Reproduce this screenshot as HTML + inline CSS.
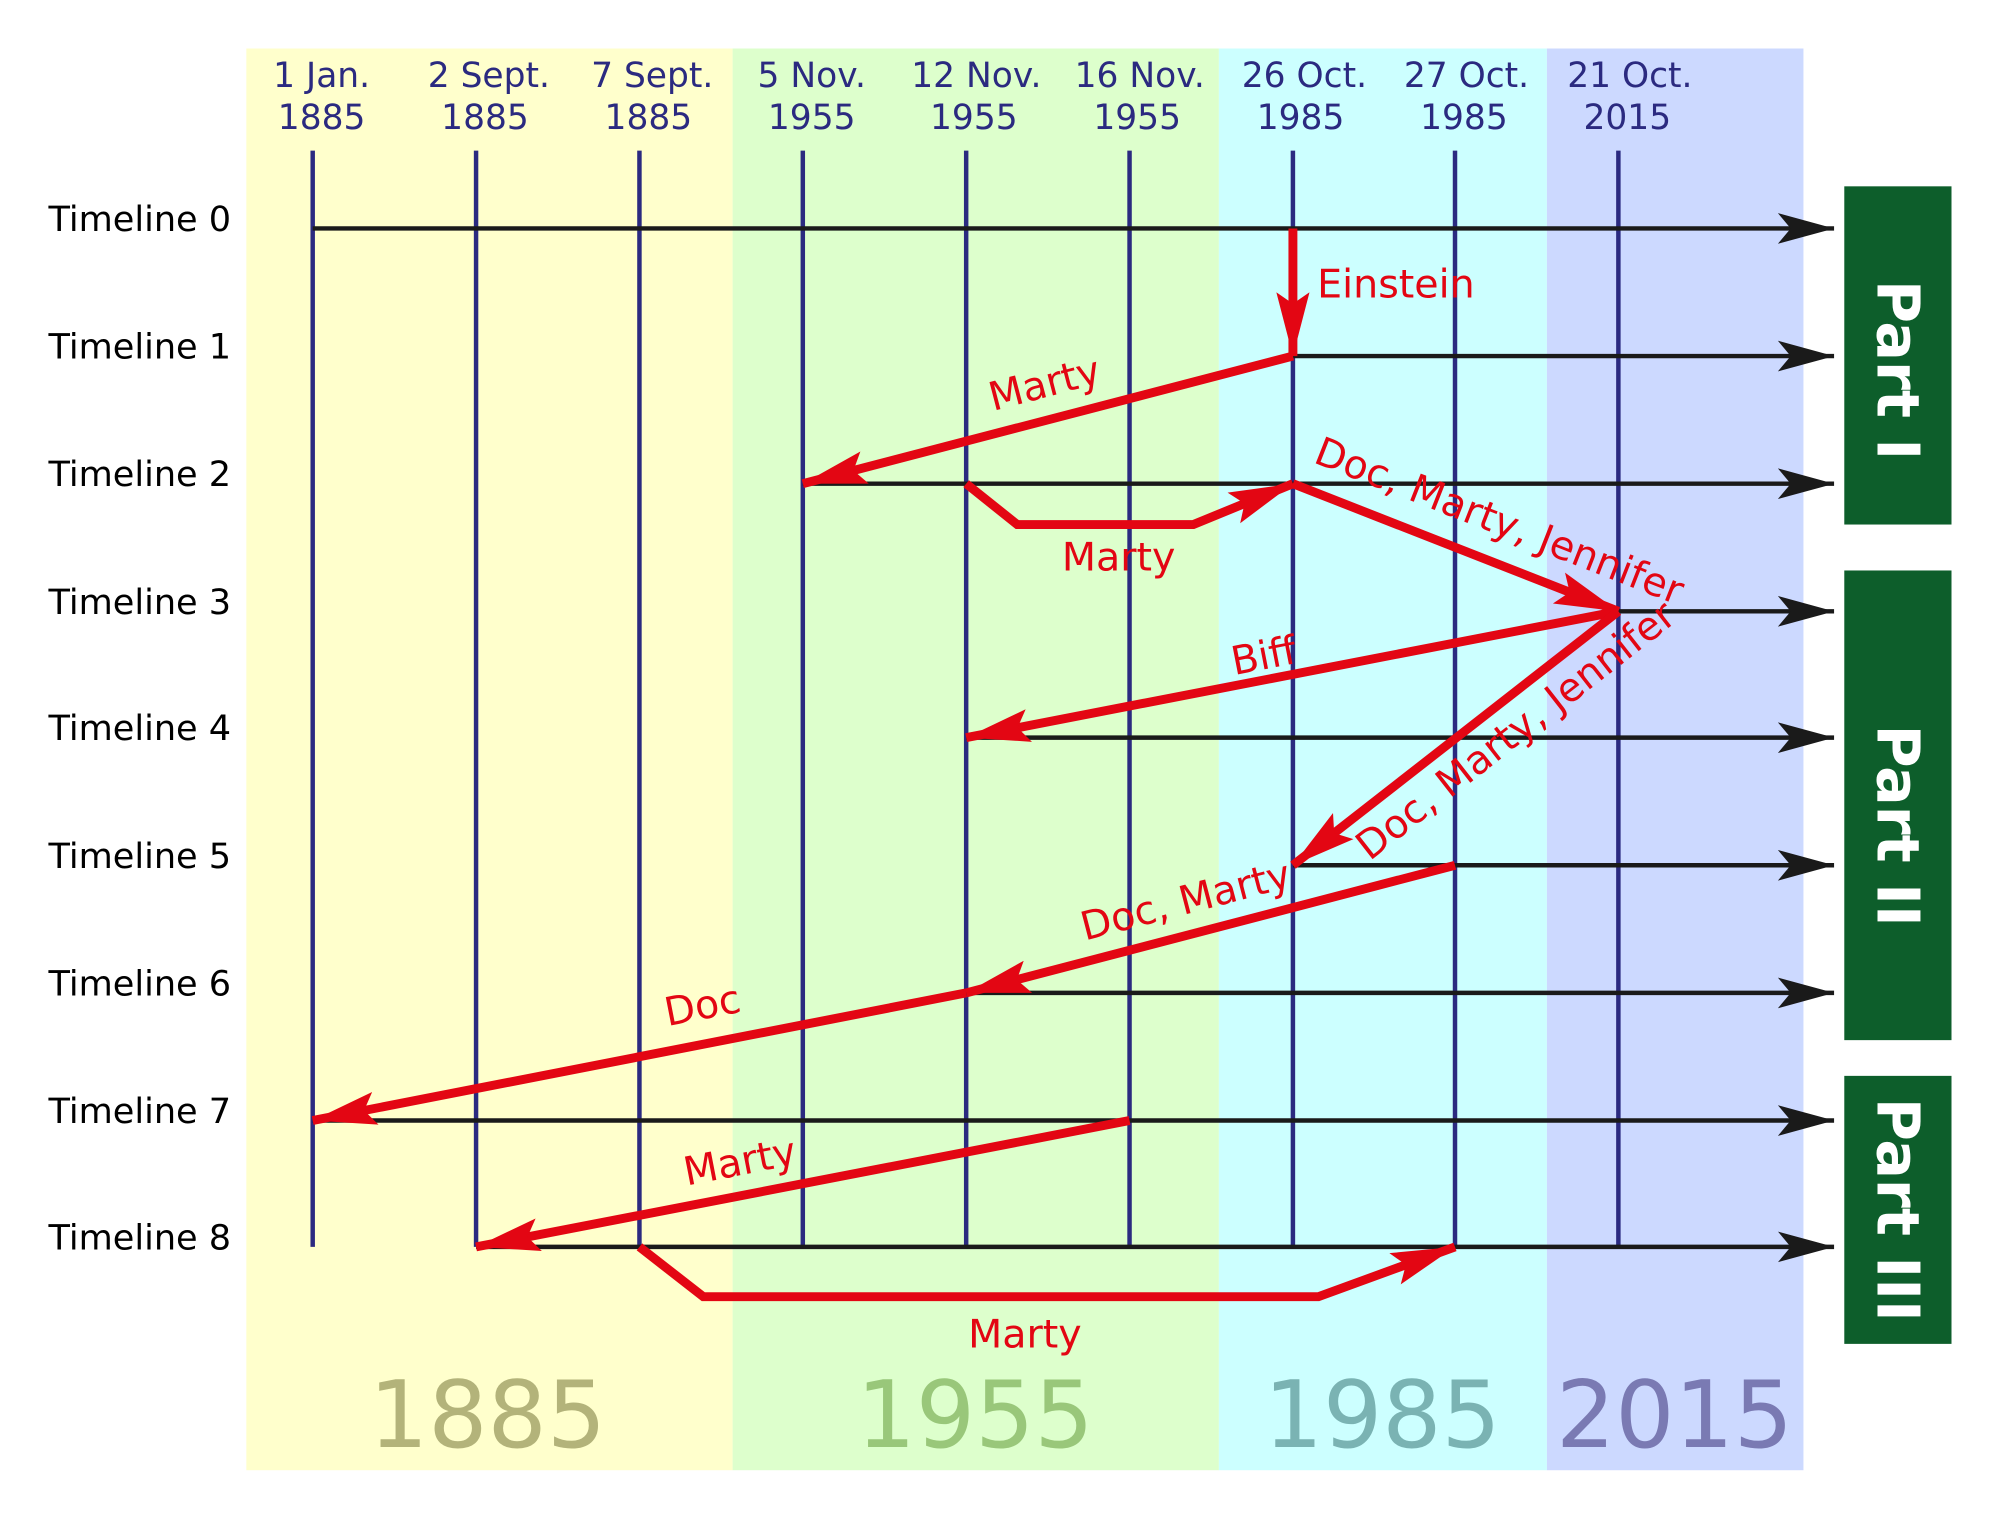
<!DOCTYPE html>
<html><head><meta charset="utf-8"><style>html,body{margin:0;padding:0;background:#fff}svg{display:block}</style></head><body>
<svg width="2000" height="1520" viewBox="0 0 1567 1191" preserveAspectRatio="none" xmlns="http://www.w3.org/2000/svg" font-family="DejaVu Sans, Liberation Sans, sans-serif">
<defs>
<marker id="bk" markerUnits="userSpaceOnUse" markerWidth="50" markerHeight="30" refX="44" refY="15" orient="auto"><path d="M0,3 L44,15 L0,27 L10,15 Z" fill="#1a1a1a"/></marker>
<marker id="rd" markerUnits="userSpaceOnUse" markerWidth="56" markerHeight="34" refX="50" refY="17" orient="auto"><path d="M0,4 L50,17 L0,30 L9,17 Z" fill="#e30613"/></marker>
</defs>
<rect x="193" y="38" width="381" height="1114" fill="#ffffcc"/>
<rect x="574" y="38" width="381" height="1114" fill="#ddffcc"/>
<rect x="955" y="38" width="257" height="1114" fill="#ccffff"/>
<rect x="1212" y="38" width="201" height="1114" fill="#ccd9ff"/>
<g font-size="73" text-anchor="middle">
<text x="382" y="1134" fill="#b3b37a">1885</text>
<text x="764" y="1134" fill="#99c77a">1955</text>
<text x="1083" y="1134" fill="#7ab3b3">1985</text>
<text x="1312" y="1134" fill="#7a7ab3">2015</text>
</g>
<g fill="#2b2a80" font-size="27" text-anchor="middle">
<text x="252" y="68">1 Jan.</text><text x="252" y="101">1885</text>
<text x="383" y="68">2 Sept.</text><text x="380" y="101">1885</text>
<text x="511" y="68">7 Sept.</text><text x="508" y="101">1885</text>
<text x="636" y="68">5 Nov.</text><text x="636" y="101">1955</text>
<text x="765" y="68">12 Nov.</text><text x="763" y="101">1955</text>
<text x="893" y="68">16 Nov.</text><text x="891" y="101">1955</text>
<text x="1022" y="68">26 Oct.</text><text x="1019" y="101">1985</text>
<text x="1149" y="68">27 Oct.</text><text x="1147" y="101">1985</text>
<text x="1277" y="68">21 Oct.</text><text x="1275" y="101">2015</text>
</g>
<g stroke="#2b2a80" stroke-width="3.5">
<line x1="245" y1="118" x2="245" y2="977"/><line x1="373" y1="118" x2="373" y2="977"/><line x1="501" y1="118" x2="501" y2="977"/><line x1="629" y1="118" x2="629" y2="977"/><line x1="757" y1="118" x2="757" y2="977"/><line x1="885" y1="118" x2="885" y2="977"/><line x1="1013" y1="118" x2="1013" y2="977"/><line x1="1140" y1="118" x2="1140" y2="977"/><line x1="1268" y1="118" x2="1268" y2="977"/>
</g>
<g font-size="27.5" fill="#000">
<text x="38" y="181">Timeline 0</text><text x="38" y="281">Timeline 1</text><text x="38" y="381">Timeline 2</text><text x="38" y="481">Timeline 3</text><text x="38" y="580">Timeline 4</text><text x="38" y="680">Timeline 5</text><text x="38" y="780">Timeline 6</text><text x="38" y="880">Timeline 7</text><text x="38" y="979">Timeline 8</text>
</g>
<g stroke="#1a1a1a" stroke-width="3.5" marker-end="url(#bk)">
<line x1="245" y1="179" x2="1437" y2="179"/><line x1="1013" y1="279" x2="1437" y2="279"/><line x1="629" y1="379" x2="1437" y2="379"/><line x1="1268" y1="479" x2="1437" y2="479"/><line x1="757" y1="578" x2="1437" y2="578"/><line x1="1013" y1="678" x2="1437" y2="678"/><line x1="757" y1="778" x2="1437" y2="778"/><line x1="245" y1="878" x2="1437" y2="878"/><line x1="373" y1="977" x2="1437" y2="977"/>
</g>
<g stroke="#e30613" stroke-width="7" fill="none" marker-end="url(#rd)" stroke-linejoin="miter">
<line x1="1013" y1="179" x2="1013" y2="279"/>
<line x1="1013" y1="279" x2="629" y2="379"/>
<polyline points="757,379 797,411 935,411 1013,379"/>
<line x1="1013" y1="379" x2="1268" y2="479"/>
<line x1="1268" y1="479" x2="757" y2="578"/>
<line x1="1268" y1="479" x2="1013" y2="678"/>
<line x1="1140" y1="678" x2="757" y2="778"/>
<line x1="757" y1="778" x2="245" y2="878"/>
<line x1="885" y1="878" x2="373" y2="977"/>
<polyline points="501,977 551,1016 1033,1016 1140,977"/>
</g>
<g fill="#e30613" font-size="31">
<text x="1032" y="233">Einstein</text>
<text x="778" y="322" transform="rotate(-14.6 778 322)">Marty</text>
<text x="832" y="447">Marty</text>
<text x="1028" y="362" transform="rotate(21.4 1028 362)">Doc, Marty, Jennifer</text>
<text x="967" y="529" transform="rotate(-11 967 529)">Biff</text>
<text x="1073" y="675" transform="rotate(-38 1073 675)">Doc, Marty, Jennifer</text>
<text x="850" y="737" transform="rotate(-14.6 850 737)">Doc, Marty</text>
<text x="523" y="804" transform="rotate(-11 523 804)">Doc</text>
<text x="538" y="929" transform="rotate(-11 538 929)">Marty</text>
<text x="803" y="1056" text-anchor="middle">Marty</text>
</g>
<g fill="#0d5e2b">
<rect x="1445" y="146" width="84" height="265"/>
<rect x="1445" y="447" width="84" height="368"/>
<rect x="1445" y="843" width="84" height="210"/>
</g>
<g fill="#fff" font-size="46" font-weight="bold" text-anchor="middle">
<text transform="translate(1471 290) rotate(90)">Part I</text>
<text transform="translate(1471 647) rotate(90)">Part II</text>
<text transform="translate(1471 948) rotate(90)">Part III</text>
</g>
</svg>
</body></html>
